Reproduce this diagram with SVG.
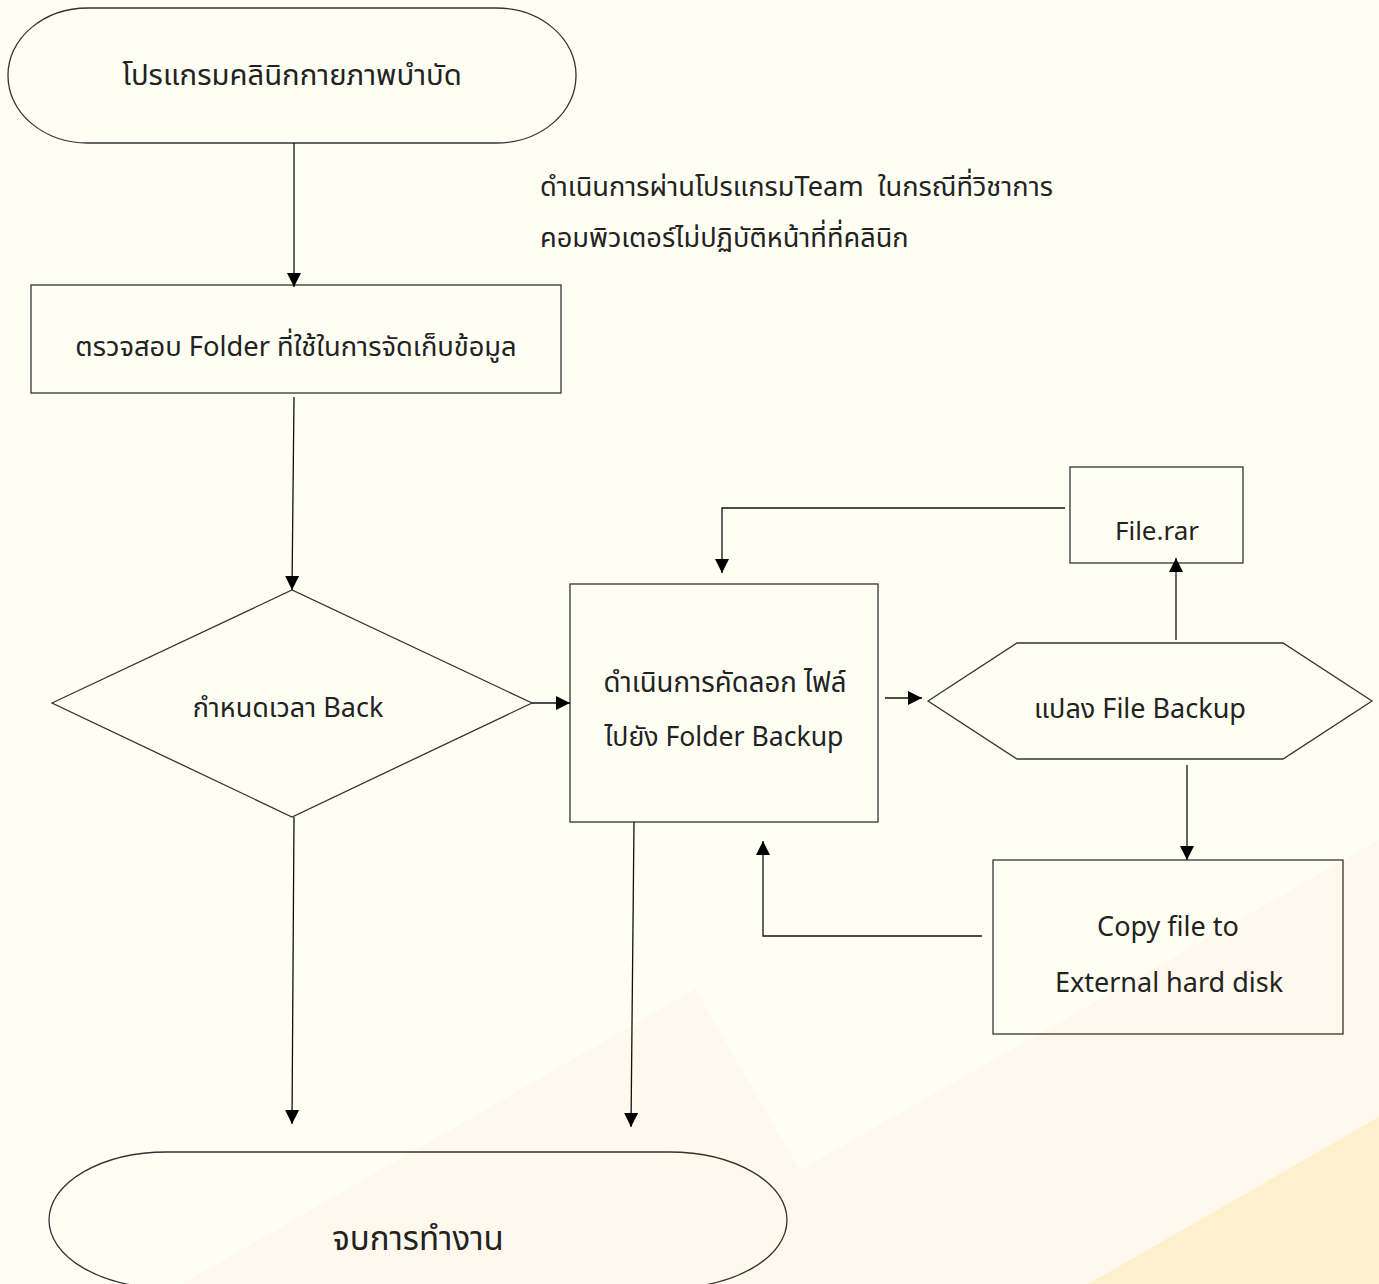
<svg xmlns="http://www.w3.org/2000/svg" width="1379" height="1284" viewBox="0 0 1379 1284">
<style>
.shape{fill:none;stroke:#333;stroke-width:1.3}
.conn{fill:none;stroke:#111;stroke-width:1.3}
.t{font-family:"Noto Sans","Noto Sans Thai","DejaVu Sans",sans-serif;font-size:27px;fill:#222;text-anchor:middle;white-space:pre}
.tl{text-anchor:start}
</style>
<defs>
<marker id="ah" markerUnits="userSpaceOnUse" markerWidth="14" markerHeight="16" viewBox="0 0 14 16" refX="14" refY="8" orient="auto">
<path d="M0,1 L14,8 L0,15 Z" fill="#000"/>
</marker>
</defs>
<rect width="1379" height="1284" fill="#FFFEF3"/>
<polygon points="182,1284 695,989 800,1170 1379,840 1379,1284" fill="#FEF9EC"/>
<polygon points="1088,1284 1379,1117 1379,1284" fill="#FEF0CD"/>

<g id="start">
<rect class="shape" x="8" y="8" width="568" height="135" rx="80" ry="67"/>
<text class="t" x="292" y="85" style="font-size:29.3px">โปรแกรมคลินิกกายภาพบำบัด</text>
</g>
<g id="note">
<text class="t tl" x="540" y="196" xml:space="preserve" style="font-size:27.2px">ดำเนินการผ่านโปรแกรมTeam  ในกรณีที่วิชาการ</text>
<text class="t tl" x="540" y="247" style="font-size:27.2px">คอมพิวเตอร์ไม่ปฏิบัติหน้าที่ที่คลินิก</text>
</g>
<g id="check">
<rect class="shape" x="31" y="285" width="530" height="108"/>
<text class="t" x="296" y="356" style="font-size:27.3px">ตรวจสอบ Folder ที่ใช้ในการจัดเก็บข้อมูล</text>
</g>
<g id="schedule">
<polygon class="shape" points="52,703 292,590 532,703 292,817"/>
<text class="t" x="288" y="717">กำหนดเวลา Back</text>
</g>
<g id="copy">
<rect class="shape" x="570" y="584" width="308" height="238"/>
<text class="t" x="725" y="692" style="font-size:27.6px">ดำเนินการคัดลอก ไฟล์</text>
<text class="t" x="724" y="746" style="font-size:26.6px">ไปยัง Folder Backup</text>
</g>
<g id="convert">
<polygon class="shape" points="928,701 1017,643 1283,643 1372,701 1283,759 1017,759"/>
<text class="t" x="1140" y="718">แปลง File Backup</text>
</g>
<g id="rar">
<rect class="shape" x="1070" y="467" width="173" height="96"/>
<text class="t" x="1157" y="540" style="font-size:26px">File.rar</text>
</g>
<g id="external">
<rect class="shape" x="993" y="860" width="350" height="174"/>
<text class="t" x="1168" y="936">Copy file to</text>
<text class="t" x="1169" y="992">External hard disk</text>
</g>
<g id="end">
<rect class="shape" x="49" y="1152" width="738" height="136" rx="118" ry="68"/>
<text class="t" x="418" y="1250" style="font-size:33px">จบการทำงาน</text>
</g>

<g id="connectors">
<line class="conn" x1="294" y1="143" x2="294" y2="287" marker-end="url(#ah)"/>
<line class="conn" x1="294" y1="397" x2="292" y2="590" marker-end="url(#ah)"/>
<line class="conn" x1="532" y1="703" x2="570" y2="703" marker-end="url(#ah)"/>
<line class="conn" x1="885" y1="698" x2="922" y2="698" marker-end="url(#ah)"/>
<line class="conn" x1="1176" y1="640" x2="1176" y2="558" marker-end="url(#ah)"/>
<polyline class="conn" points="1065,508 722,508 722,573" marker-end="url(#ah)"/>
<line class="conn" x1="1187" y1="765" x2="1187" y2="860" marker-end="url(#ah)"/>
<polyline class="conn" points="982,936 763,936 763,841" marker-end="url(#ah)"/>
<line class="conn" x1="294" y1="817" x2="292" y2="1124" marker-end="url(#ah)"/>
<line class="conn" x1="634" y1="822" x2="631" y2="1127" marker-end="url(#ah)"/>
</g>
</svg>
